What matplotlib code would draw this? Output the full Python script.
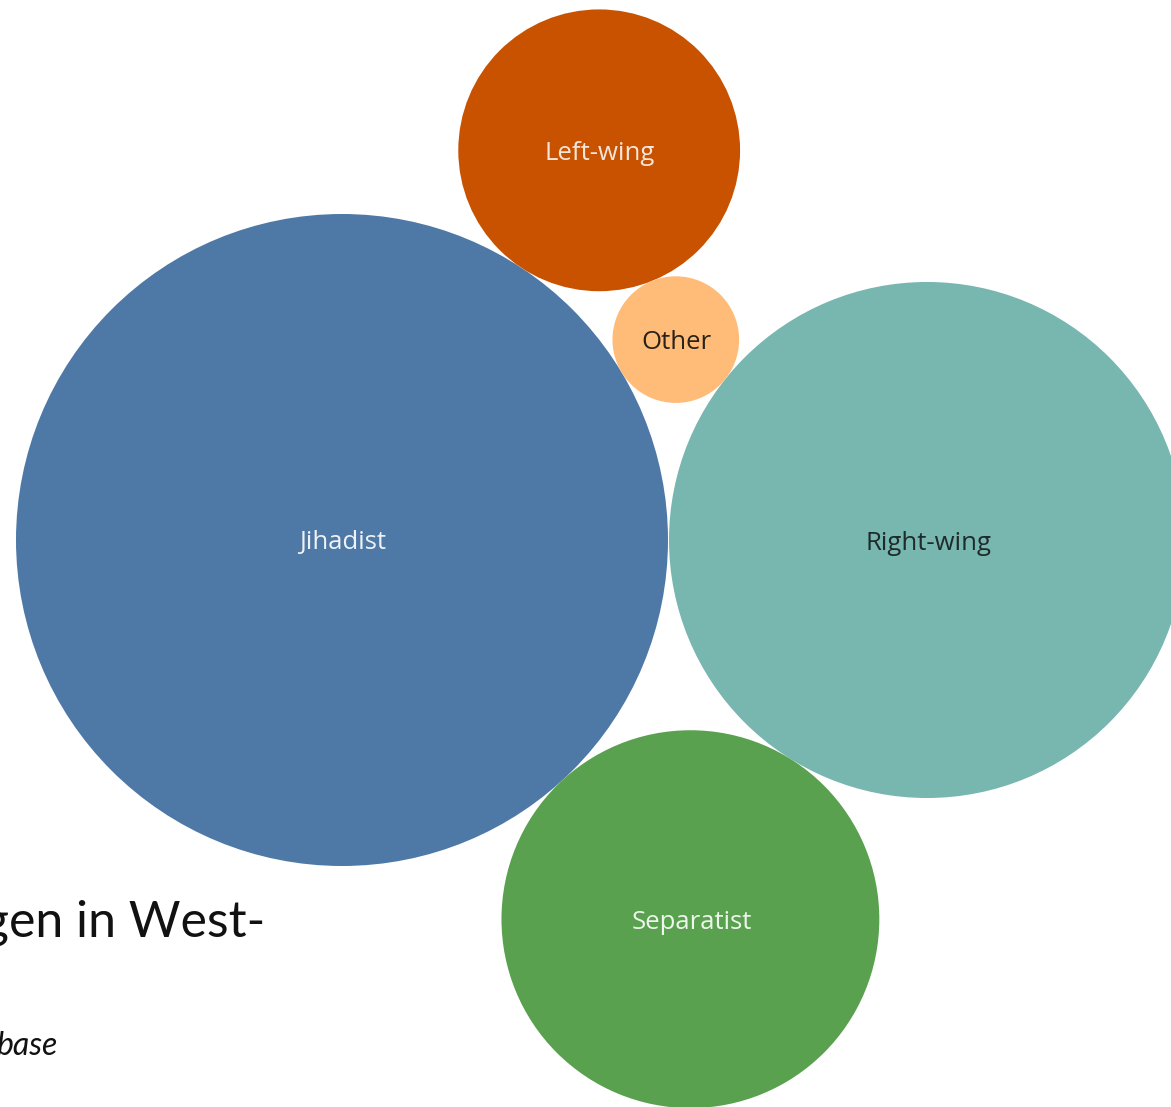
import numpy as np
import matplotlib
matplotlib.use("Agg")
import matplotlib.pyplot as plt
from matplotlib.patches import Circle

# ---- data ----
categories = ["Jihadist", "Right-wing", "Separatist", "Left-wing", "Other"]
values = [530, 332, 178, 99, 20]
colors = ["#4e79a7", "#78b6b0", "#59a14f", "#c85200", "#ffbc79"]
label_colors = ["#eef2f7", "#1e2b2a", "#eef5ec", "#f5e6da", "#2a2218"]
title_fragment = "gen in West-"
source_fragment = "base"

# ---- layout ----
W, H = 1171, 1107
scale = 326.0 / np.sqrt(530)
radii = {c: scale * np.sqrt(v) for c, v in zip(categories, values)}


def tangent_third(c1, r1, c2, r2, r3, side):
    """Center of a circle of radius r3 tangent to two circles."""
    c1 = np.array(c1); c2 = np.array(c2)
    d = np.linalg.norm(c2 - c1)
    a = r1 + r3
    b = r2 + r3
    x = (a**2 - b**2 + d**2) / (2 * d)
    h = np.sqrt(max(a**2 - x**2, 0))
    u = (c2 - c1) / d
    n = np.array([-u[1], u[0]])
    return c1 + x * u + side * h * n

centers = {}
centers["Jihadist"] = np.array([0.0, 0.0])
centers["Right-wing"] = np.array([radii["Jihadist"] + radii["Right-wing"] + 1, 0.0])
centers["Other"] = tangent_third(centers["Jihadist"], radii["Jihadist"],
                                 centers["Right-wing"], radii["Right-wing"],
                                 radii["Other"], +1)
centers["Separatist"] = tangent_third(centers["Jihadist"], radii["Jihadist"],
                                      centers["Right-wing"], radii["Right-wing"],
                                      radii["Separatist"], -1)
centers["Left-wing"] = tangent_third(centers["Jihadist"], radii["Jihadist"],
                                     centers["Other"], radii["Other"],
                                     radii["Left-wing"], +1)

fig = plt.figure(figsize=(W / 100, H / 100), dpi=100)
ax = fig.add_axes([0, 0, 1, 1])
ax.set_xlim(-342, W - 342)
ax.set_ylim(540 - H, 540)
ax.set_aspect("equal")
ax.axis("off")

for c, col, lc in zip(categories, colors, label_colors):
    cx, cy = centers[c]
    ax.text(cx + 1, cy - 3, c, ha="center", va="center", fontsize=18.5,
            family="Open Sans", color=lc, zorder=3)
    ax.add_patch(Circle((cx, cy), radii[c], facecolor=col, edgecolor="none", zorder=2))

# clipped text fragments from the page behind
ax.text(265 - 342, 540 - 937, title_fragment, ha="right", va="baseline",
        fontsize=36, family="Lato", color="#111111", zorder=1)
ax.text(57 - 342, 540 - 1055, source_fragment, ha="right", va="baseline",
        fontsize=23, family="Lato", style="italic",
        color="#111111", zorder=1)

fig.savefig("out.png", dpi=100)
